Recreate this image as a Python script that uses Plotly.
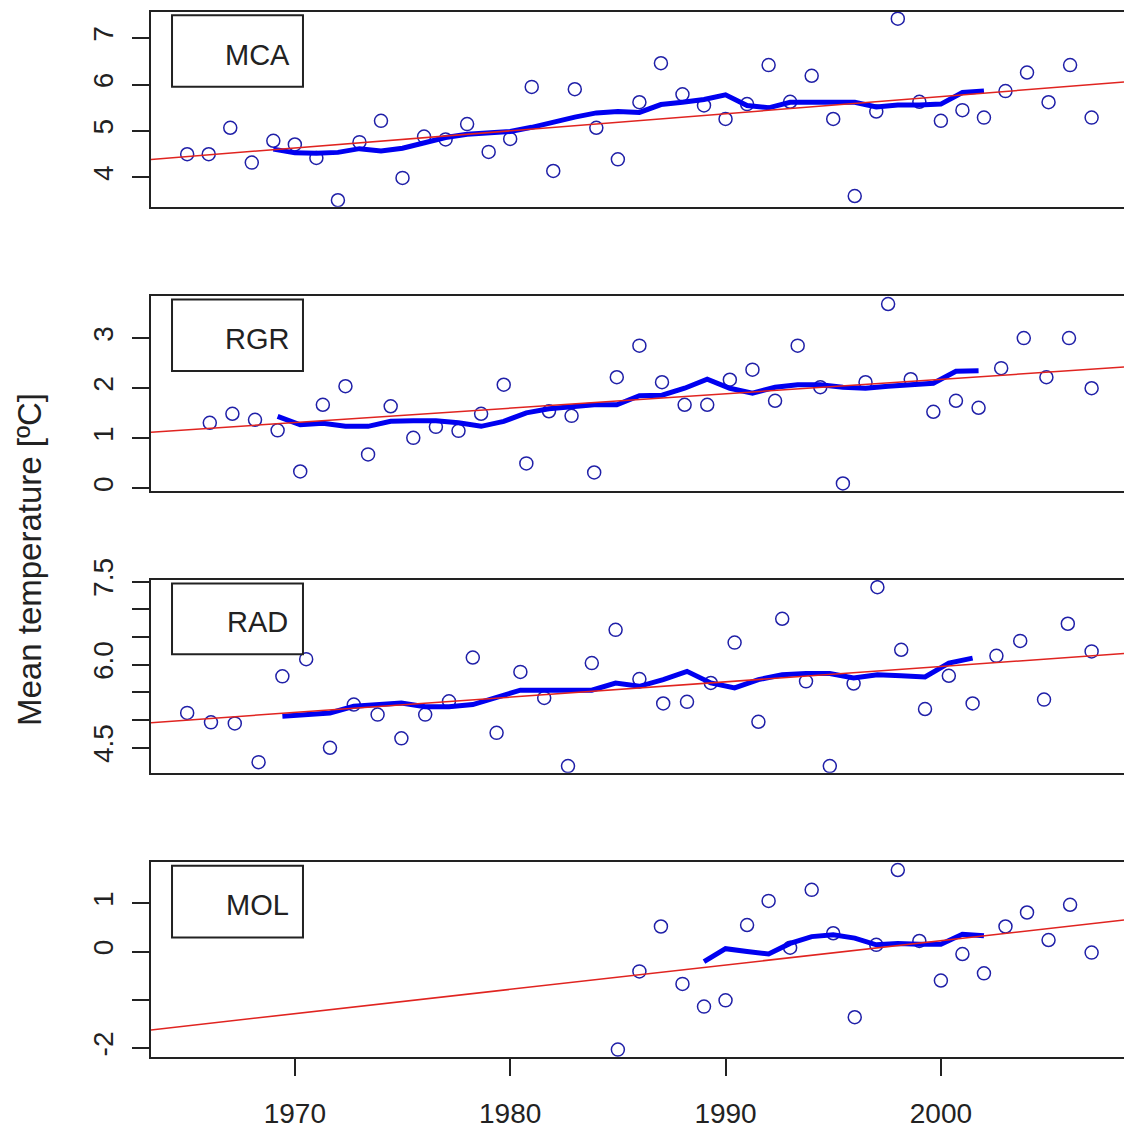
import plotly.graph_objects as go

# ---------------- data ----------------
years_mca = list(range(1965, 2008))
temp_mca = [4.50, 4.50, 5.07, 4.32, 4.79, 4.71, 4.42, 3.51, 4.76, 5.22,
            3.99, 4.88, 4.82, 5.15, 4.55, 4.83, 5.95, 4.14, 5.90, 5.07,
            4.39, 5.62, 6.46, 5.79, 5.55, 5.26, 5.58, 6.42, 5.63, 6.19,
            5.26, 3.60, 5.42, 7.42, 5.63, 5.22, 5.45, 5.29, 5.86, 6.26,
            5.62, 6.42, 5.29]
smooth_years_mca = list(range(1969, 2003))
smooth_mca = [4.61, 4.53, 4.52, 4.54, 4.62, 4.57, 4.63, 4.75, 4.86, 4.93,
              4.95, 4.99, 5.08, 5.20, 5.30, 5.39, 5.42, 5.40, 5.57, 5.62,
              5.68, 5.78, 5.55, 5.50, 5.62, 5.62, 5.62, 5.62, 5.52, 5.56,
              5.56, 5.58, 5.83, 5.86]
trend_years_mca = [1965, 2007]
trend_mca = [4.45, 6.00]

years_rgr = list(range(1968, 2008))
temp_rgr = [1.31, 1.49, 1.37, 1.16, 0.34, 1.67, 2.04, 0.68, 1.64, 1.01,
            1.23, 1.15, 1.49, 2.07, 0.50, 1.54, 1.45, 0.32, 2.22, 2.85,
            2.12, 1.67, 1.67, 2.17, 2.37, 1.75, 2.85, 2.02, 0.10, 2.12,
            3.68, 2.18, 1.53, 1.75, 1.61, 2.40, 3.00, 2.22, 3.00, 2.00]
smooth_years_rgr = list(range(1971, 2003))
smooth_rgr = [1.44, 1.27, 1.30, 1.24, 1.24, 1.34, 1.35, 1.35, 1.31, 1.24,
              1.34, 1.51, 1.59, 1.64, 1.67, 1.67, 1.85, 1.86, 2.00, 2.18,
              2.00, 1.90, 2.02, 2.07, 2.07, 2.02, 2.00, 2.04, 2.07, 2.10,
              2.34, 2.35]
trend_years_rgr = [1968, 2007]
trend_rgr = [1.20, 2.38]

years_rad = list(range(1969, 2008))
temp_rad = [5.13, 4.96, 4.94, 4.24, 5.79, 6.10, 4.50, 5.28, 5.10, 4.67,
            5.10, 5.34, 6.13, 4.77, 5.87, 5.40, 4.17, 6.03, 6.63, 5.74,
            5.30, 5.33, 5.67, 6.40, 4.97, 6.83, 5.70, 4.17, 5.66, 7.40,
            6.27, 5.20, 5.80, 5.30, 6.16, 6.43, 5.37, 6.74, 6.24]
smooth_years_rad = list(range(1973, 2003))
smooth_rad = [5.07, 5.09, 5.13, 5.25, 5.28, 5.31, 5.24, 5.24, 5.28, 5.40,
              5.54, 5.54, 5.54, 5.54, 5.67, 5.61, 5.73, 5.88, 5.67, 5.58,
              5.73, 5.82, 5.84, 5.84, 5.76, 5.82, 5.80, 5.78, 6.03, 6.12]
trend_years_rad = [1969, 2007]
trend_rad = [5.00, 6.16]

years_mol = list(range(1985, 2008))
temp_mol = [-2.03, -0.41, 0.52, -0.67, -1.14, -1.01, 0.55, 1.05, 0.08, 1.28,
            0.38, -1.36, 0.14, 1.69, 0.22, -0.60, -0.05, -0.45, 0.52, 0.81,
            0.24, 0.97, -0.02]
smooth_years_mol = list(range(1989, 2003))
smooth_mol = [-0.21, 0.06, 0.00, -0.05, 0.17, 0.31, 0.35, 0.28, 0.14, 0.17,
              0.15, 0.15, 0.36, 0.33]
trend_years_mol = [1985, 2007]
trend_mol = [-0.53, 0.58]

station_names = ["MCA", "RGR", "RAD", "MOL"]
x_extent = [(1965, 2007), (1967, 2007), (1969, 2007), (1965, 2007)]
y_ranges = [(3.37, 7.57), (-0.05, 3.84), (4.05, 7.53), (-2.19, 1.85)]
y_tickvals = [[4, 5, 6, 7], [0, 1, 2, 3],
              [4.5, 5.0, 5.5, 6.0, 6.5, 7.0, 7.5], [-2, -1, 0, 1]]
y_ticktext = [["4", "5", "6", "7"], ["0", "1", "2", "3"],
              ["4.5", "", "", "6.0", "", "", "7.5"], ["-2", "", "0", "1"]]
x_tickvals = [1970, 1980, 1990, 2000]
y_title = "Mean temperature [ºC]"

# ---------------- styling / layout ----------------
W, H = 1124, 1133
LEFT = 151
PANEL_PX = [(11.7, 206.7), (296, 491), (580, 772.7), (862.3, 1057.3)]
FULL_PLOT_PX = 976.8
FONT = "Liberation Sans, Arial, sans-serif"
TXT = "#222222"
PT_COL = "#2020a8"
SM_COL = "#0000f0"
TR_COL = "#e02420"

panels = [
    (years_mca, temp_mca, smooth_years_mca, smooth_mca, trend_years_mca, trend_mca),
    (years_rgr, temp_rgr, smooth_years_rgr, smooth_rgr, trend_years_rgr, trend_rgr),
    (years_rad, temp_rad, smooth_years_rad, smooth_rad, trend_years_rad, trend_rad),
    (years_mol, temp_mol, smooth_years_mol, smooth_mol, trend_years_mol, trend_mol),
]

fig = go.Figure()
layout = dict(
    width=W, height=H,
    margin=dict(l=LEFT, r=0, t=0, b=0),
    paper_bgcolor="white", plot_bgcolor="white",
    showlegend=False,
    font=dict(family=FONT, color=TXT, size=28),
)
shapes = []
annotations = []

for i, (yrs, vals, syrs, svals, tyrs, tvals) in enumerate(panels):
    n = "" if i == 0 else str(i + 1)
    xa, ya = "x" + n, "y" + n
    first, last = x_extent[i]
    pad = 0.04 * (last - first)
    lo, hi = first - pad, last + pad
    hi_vis = lo + (hi - lo) * (W - LEFT) / FULL_PLOT_PX

    # trend line across full panel (straight line through the two read points)
    slope = (tvals[1] - tvals[0]) / (tyrs[1] - tyrs[0])
    tx = [lo, hi_vis]
    ty = [tvals[0] + slope * (t - tyrs[0]) for t in tx]

    fig.add_trace(go.Scatter(x=yrs, y=vals, mode="markers", xaxis=xa, yaxis=ya,
                             marker=dict(symbol="circle-open", size=13, color=PT_COL,
                                         line=dict(width=1.5, color=PT_COL))))
    fig.add_trace(go.Scatter(x=syrs, y=svals, mode="lines", xaxis=xa, yaxis=ya,
                             line=dict(color=SM_COL, width=5)))
    fig.add_trace(go.Scatter(x=tx, y=ty, mode="lines", xaxis=xa, yaxis=ya,
                             line=dict(color=TR_COL, width=1.5)))

    top, bot = PANEL_PX[i]
    dom = [1 - bot / H, 1 - top / H]
    bottom_panel = (i == 3)
    layout["xaxis" + n] = dict(
        domain=[0, 1], range=[lo, hi_vis], anchor=ya,
        showgrid=False, zeroline=False,
        showline=True, mirror=True, linecolor="#222222", linewidth=2,
        ticks="outside" if bottom_panel else "", ticklen=17, tickwidth=1.5,
        tickcolor="#222222",
        tickvals=x_tickvals, showticklabels=bottom_panel,
        tickfont=dict(size=28, family=FONT, color=TXT),
        ticklabelstandoff=13,
        automargin=False,
    )
    layout["yaxis" + n] = dict(
        domain=dom, range=list(y_ranges[i]), anchor=xa,
        showgrid=False, zeroline=False,
        showline=True, mirror=False, linecolor="#222222", linewidth=2,
        ticks="outside", ticklen=17, tickwidth=1.5, tickcolor="#222222",
        tickvals=y_tickvals[i], ticktext=y_ticktext[i],
        tickangle=-90, tickfont=dict(size=28, family=FONT, color=TXT),
        ticklabelstandoff=8,
        automargin=False,
    )

    # label box
    shapes.append(dict(type="rect", xref=xa + " domain", yref=ya + " domain",
                       x0=0.0216, x1=0.1562, y0=0.615, y1=0.982,
                       line=dict(color="#222222", width=2), fillcolor="white", layer="above"))
    annotations.append(dict(xref=xa + " domain", yref=ya + " domain",
                            x=0.109, y=0.7795, text=station_names[i], showarrow=False,
                            xanchor="center", yanchor="middle",
                            font=dict(size=29, family=FONT, color=TXT)))

annotations.append(dict(xref="paper", yref="paper", x=(29 - LEFT) / (W - LEFT),
                        y=1 - 560 / H, text=y_title, showarrow=False, textangle=-90,
                        xanchor="center", yanchor="middle",
                        font=dict(size=33, family=FONT, color=TXT)))

layout["shapes"] = shapes
layout["annotations"] = annotations
fig.update_layout(**layout)
fig.write_html("out.html")
